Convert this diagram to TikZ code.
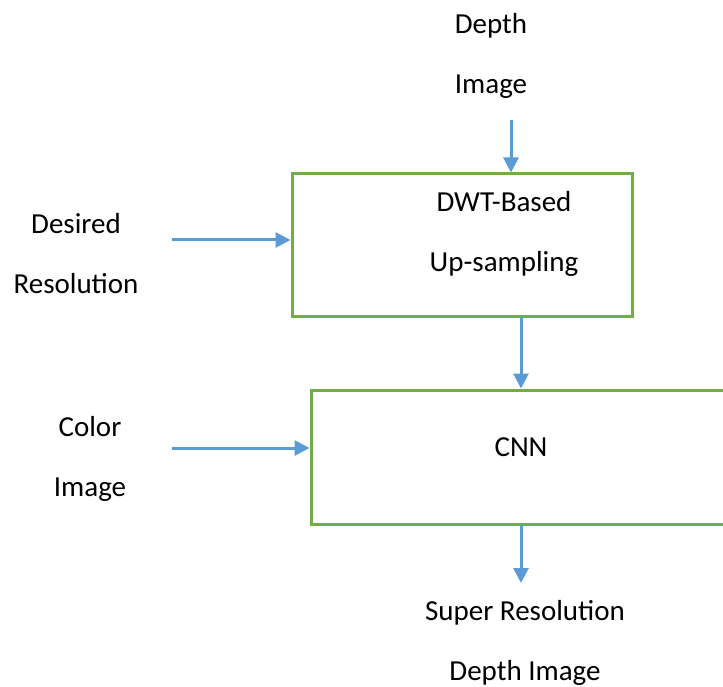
\documentclass[tikz,border=0pt]{standalone}
\usepackage{fontspec}
\setmainfont{Carlito}
\usetikzlibrary{arrows.meta,positioning,calc}

\definecolor{boxgreen}{HTML}{70AD47}
\definecolor{arrowblue}{HTML}{5B9BD5}

\begin{document}
\begin{tikzpicture}[
    x=1pt, y=1pt,
    every node/.style={font=\fontsize{29}{60}\selectfont, inner sep=0pt},
    block/.style={rectangle, draw=boxgreen, line width=3pt, inner sep=0pt},
    label/.style={align=center, anchor=base},
    arrow/.style={draw=arrowblue, line width=3pt, -{Triangle[length=15pt, width=15pt]}, arrowblue}
]
    \useasboundingbox (0,0) rectangle (723,-687);
    \clip (0,0) rectangle (723,-687);

    % Blocks
    \node[block, minimum width=340pt, minimum height=142pt] (dwt) at (462,-245) {};
    \node[block, minimum width=449pt, minimum height=134pt] (cnn) at (535.5,-457) {};

    % Block texts (base = last line)
    \node[label] (dwttext) at (504,-272) {DWT-Based\\Up-sampling};
    \node[label] (cnntext) at (521,-456) {CNN};

    % Inputs and output
    \node[label] (depth) at (491,-94) {Depth\\Image};
    \node[label] (desired) at (76,-293) {Desired\\Resolution};
    \node[label] (color) at (90,-496) {Color\\Image};
    \node[label] (result) at (525,-680) {Super Resolution\\Depth Image};

    % Arrow ends
    \coordinate (depthin) at (511,-120);
    \coordinate (desiredin) at (172,-240);
    \coordinate (colorin) at (172,-448);
    \coordinate (mid) at (521,0);
    \coordinate (resultout) at (521,-583);

    % Arrows
    \draw[arrow] (depthin) -- (depthin |- dwt.north);
    \draw[arrow] (desiredin) -- (dwt.west |- desiredin);
    \draw[arrow] (dwt.south -| mid) -- (cnn.north -| mid);
    \draw[arrow] (colorin) -- (cnn.west |- colorin);
    \draw[arrow] (cnn.south -| mid) -- (resultout);
\end{tikzpicture}
\end{document}
